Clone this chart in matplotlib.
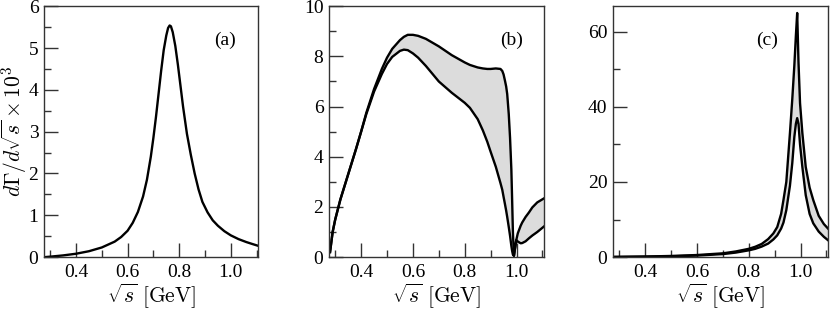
import numpy as np
import matplotlib
matplotlib.use('Agg')
import matplotlib.pyplot as plt
from matplotlib.ticker import MultipleLocator, FormatStrFormatter

plt.rcParams['font.family'] = ['Liberation Serif', 'DejaVu Serif']
plt.rcParams['mathtext.fontset'] = 'cm'

# (a) single curve
xa = [0.28, 0.30, 0.35, 0.40, 0.45, 0.50, 0.55, 0.575, 0.60, 0.62, 0.64, 0.66,
      0.675, 0.69, 0.70, 0.71, 0.72, 0.73, 0.74, 0.75, 0.757, 0.763, 0.768,
      0.775, 0.785, 0.795, 0.805, 0.815, 0.83, 0.845, 0.86, 0.875, 0.89, 0.91,
      0.93, 0.95, 0.975, 1.0, 1.03, 1.06, 1.085, 1.106]
ya = [0.0, 0.01, 0.04, 0.08, 0.14, 0.23, 0.37, 0.48, 0.63, 0.82, 1.08, 1.45,
      1.85, 2.4, 2.85, 3.35, 3.9, 4.45, 4.95, 5.3, 5.48, 5.54, 5.52,
      5.38, 5.05, 4.6, 4.1, 3.6, 2.95, 2.45, 2.0, 1.62, 1.32, 1.07,
      0.88, 0.75, 0.62, 0.52, 0.43, 0.36, 0.31, 0.27]

# (b) band, upper and lower edge
xb = [0.28, 0.29, 0.30, 0.32, 0.35, 0.38, 0.40, 0.42, 0.45, 0.48, 0.50, 0.52,
      0.55, 0.565, 0.58, 0.60, 0.62, 0.65, 0.70, 0.75, 0.80, 0.82, 0.85, 0.87,
      0.887, 0.90, 0.92, 0.938, 0.945, 0.95, 0.955, 0.96, 0.964, 0.97, 0.975,
      0.98, 0.983, 0.986, 0.99, 0.995, 0.999, 1.005, 1.016, 1.022, 1.035,
      1.048, 1.061, 1.08, 1.106]
yb_up = [0.2, 1.0, 1.5, 2.3, 3.3, 4.3, 5.0, 5.75, 6.7, 7.5, 7.95, 8.3,
         8.65, 8.78, 8.86, 8.86, 8.82, 8.7, 8.4, 8.05, 7.76, 7.66, 7.56, 7.52,
         7.5, 7.5, 7.52, 7.5, 7.42, 7.28, 7.05, 6.8, 6.5, 5.7, 4.75,
         3.5, 2.3, 1.0, 0.05, 0.4, 0.68, 0.95, 1.25, 1.38, 1.6,
         1.78, 1.98, 2.18, 2.34]
yb_lo = [0.2, 1.0, 1.5, 2.3, 3.3, 4.3, 5.0, 5.7, 6.6, 7.3, 7.7, 7.98,
         8.22, 8.27, 8.25, 8.12, 7.95, 7.62, 7.0, 6.55, 6.15, 5.95, 5.5, 5.05,
         4.6, 4.2, 3.6, 2.95, 2.68, 2.4, 2.13, 1.85, 1.6, 1.2, 0.85,
         0.45, 0.25, 0.1, 0.05, 0.4, 0.68, 0.62, 0.55, 0.56, 0.63,
         0.75, 0.86, 1.0, 1.22]

# (c) band, upper and lower edge
xc = [0.28, 0.40, 0.50, 0.60, 0.70, 0.75, 0.80, 0.825, 0.85, 0.875, 0.895,
      0.91, 0.925, 0.934, 0.945, 0.959, 0.968, 0.976, 0.982, 0.987, 0.992,
      0.998, 1.007, 1.02, 1.035, 1.049, 1.07, 1.09, 1.106]
yc_up = [0.05, 0.15, 0.3, 0.55, 1.0, 1.5, 2.2, 2.75, 3.5, 4.8, 6.3,
         8.0, 11.5, 15.2, 20.0, 33.0, 42.0, 51.0, 59.0, 65.0, 52.0,
         41.0, 33.0, 24.0, 18.5, 15.2, 11.0, 8.8, 7.6]
yc_lo = [0.03, 0.1, 0.2, 0.4, 0.8, 1.2, 1.8, 2.2, 2.8, 3.6, 4.7,
         5.8, 7.6, 9.2, 12.5, 19.0, 25.0, 32.0, 35.5, 37.0, 35.5,
         30.0, 24.0, 16.5, 11.5, 9.0, 6.8, 5.4, 4.5]

fig = plt.figure(figsize=(8.3, 3.12), dpi=100)
ax1 = fig.add_axes([0.053, 0.176, 0.258, 0.804])
ax2 = fig.add_axes([0.3964, 0.176, 0.259, 0.804])
ax3 = fig.add_axes([0.7386, 0.176, 0.259, 0.804])

lw = 1.7
ax1.plot(xa, ya, color='black', lw=lw)
ax2.fill_between(xb, yb_lo, yb_up, color='#dcdcdc', lw=0)
ax2.plot(xb, yb_up, color='black', lw=lw)
ax2.plot(xb, yb_lo, color='black', lw=lw)
ax3.fill_between(xc, yc_lo, yc_up, color='#dcdcdc', lw=0)
ax3.plot(xc, yc_up, color='black', lw=lw)
ax3.plot(xc, yc_lo, color='black', lw=lw)

ylims = [(0, 6), (0, 10), (0, 66.8)]
ymaj = [1, 2, 20]
ymin = [0.5, 1, 10]
tags = ['(a)', '(b)', '(c)']
tagx = [0.846, 0.851, 0.716]

for ax, yl, mj, mn, tag, tx in zip([ax1, ax2, ax3], ylims, ymaj, ymin, tags, tagx):
    ax.set_xlim(0.276, 1.106)
    ax.set_ylim(*yl)
    ax.xaxis.set_major_locator(MultipleLocator(0.2))
    ax.xaxis.set_minor_locator(MultipleLocator(0.1))
    ax.xaxis.set_major_formatter(FormatStrFormatter('%.1f'))
    ax.yaxis.set_major_locator(MultipleLocator(mj))
    ax.yaxis.set_minor_locator(MultipleLocator(mn))
    ax.tick_params(which='both', direction='in', top=False, right=False,
                   labelsize=14, width=1.0, color='#333333')
    ax.tick_params(which='major', length=10)
    ax.tick_params(axis='x', which='major', pad=5)
    ax.tick_params(axis='y', which='major', pad=4)
    ax.tick_params(which='minor', length=5)
    for sp in ax.spines.values():
        sp.set_linewidth(1.0)
        sp.set_color('#333333')
    ax.set_xlabel(r'$\sqrt{s}\ [\mathrm{GeV}]$', fontsize=15.5, labelpad=1)
    ax.text(tx, 0.865, tag, transform=ax.transAxes, fontsize=14,
            ha='center', va='center')

ax1.set_ylabel(r'$d\Gamma/d\sqrt{s}\times 10^3$', fontsize=15.5)
ax1.yaxis.set_label_coords(-0.07, 0.5)

fig.savefig('out.png', dpi=100)
